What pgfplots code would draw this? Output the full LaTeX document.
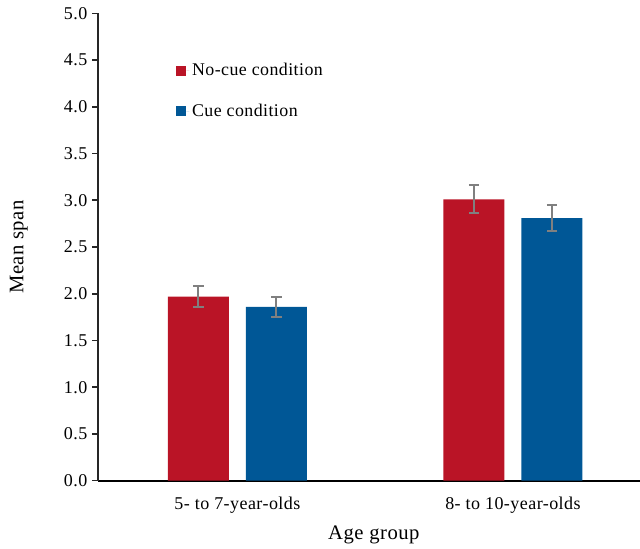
\documentclass[border=0pt]{standalone}
\usepackage{pgfplots}
\pgfplotsset{compat=1.18}
\usepackage{fontspec}
\setmainfont{Liberation Serif}[LetterSpace=2.5]
\definecolor{nocue}{RGB}{186,20,38}
\definecolor{cue}{RGB}{0,87,150}
\definecolor{errgray}{RGB}{128,128,128}
\begin{document}
\begin{tikzpicture}
\begin{axis}[
  scale only axis,
  width=406.5pt, height=350.5pt,
  xmin=-0.506, xmax=1.461,
  ymin=0, ymax=5,
  ybar,
  bar width=0.2214,
  axis x line*=bottom,
  axis y line*=left,
  x axis line style={-, line width=1.6pt, black},
  y axis line style={-, line width=1.2pt, black!85},
  xtick={0,1},
  xticklabels={5- to 7-year-olds, 8- to 10-year-olds},
  xtick style={draw=none},
  xticklabel style={yshift=-4pt},
  ytick distance=0.5,
  ytick style={line width=1.2pt, black!85},
  tick align=outside,
  major tick length=4.5pt,
  yticklabel style={/pgf/number format/fixed, /pgf/number format/fixed zerofill, /pgf/number format/precision=1},
  /pgf/number format/assume math mode=true,
  font=\fontsize{13.5}{16}\selectfont,
  ticklabel style={font=\fontsize{13.5}{16}\selectfont},
  xlabel={Age group},
  ylabel={Mean span},
  label style={font=\fontsize{15.5}{18}\selectfont},
  xlabel style={at={(axis description cs:0.509,-0.116)}, anchor=center},
  ylabel style={at={(axis description cs:-0.146,0.5)}, anchor=center},
  legend style={at={(axis description cs:0.144,0.899)}, anchor=north west, draw=none, fill=none,
    row sep=15.5pt, font=\fontsize{13.4}{15.5}\selectfont, inner sep=0pt},
  legend cell align=left,
  legend image code/.code={\fill[#1] (0pt,-3.75pt) rectangle (7.5pt,3.75pt); \path (7.5pt,0pt) -- (9.8pt,0pt);},
  error bars/error bar style={errgray, line width=1.5pt},
  error bars/error mark options={rotate=90, errgray, mark size=3.9pt, line width=1.5pt},
]
\addplot[fill=nocue, draw=none, bar shift=-0.1415,
  error bars/.cd, y dir=both, y explicit]
  coordinates {(0,1.97) +- (0,0.11) (1,3.01) +- (0,0.15)};
\addlegendentry{No-cue condition}
\addplot[fill=cue, draw=none, bar shift=0.1415,
  error bars/.cd, y dir=both, y explicit]
  coordinates {(0,1.86) +- (0,0.11) (1,2.81) +- (0,0.135)};
\addlegendentry{Cue condition}
\end{axis}
\pgfresetboundingbox
\path[use as bounding box] ([xshift=-73.5pt,yshift=-50.6pt]current axis.south west) rectangle ([yshift=10pt]current axis.north east);
\end{tikzpicture}
\end{document}
